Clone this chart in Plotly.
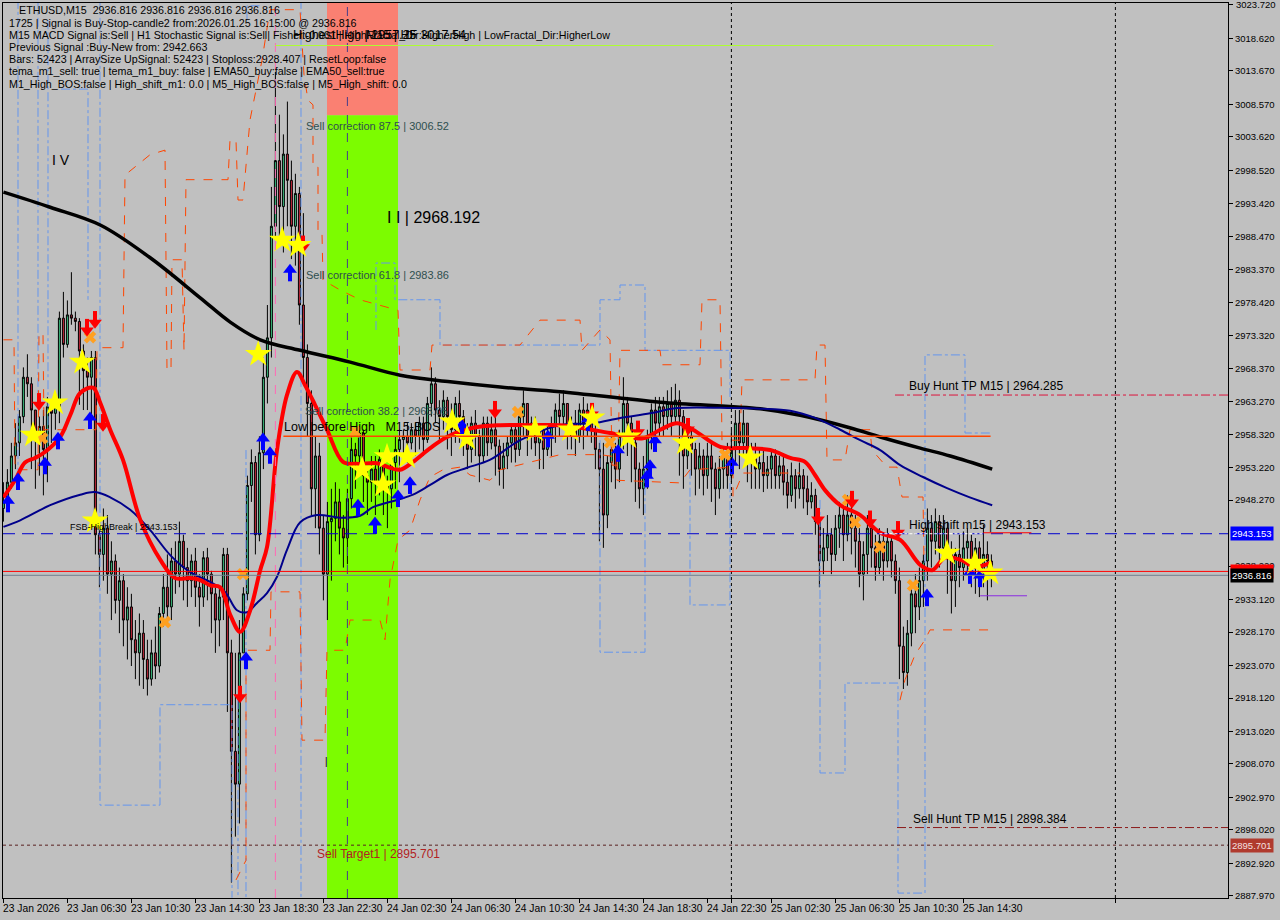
import plotly.graph_objects as go

# ---------------- data ----------------
first_open = 2947.0
closes = [
    2948, 2951, 2955, 2957, 2961, 2967, 2966, 2962, 2958, 2959.5,
    2956, 2962.5, 2961.5, 2962.5, 2976, 2972, 2976.5, 2976, 2975.5, 2971,
    2968, 2967, 2970, 2943, 2940, 2944, 2937, 2939, 2933, 2936,
    2930, 2932, 2927, 2925, 2928, 2924, 2921, 2925, 2923, 2931,
    2935, 2932, 2939, 2937, 2942, 2938, 2936, 2939, 2935, 2933.5,
    2939.5, 2937, 2934, 2930, 2933.5, 2940, 2925, 2910, 2905, 2925,
    2934, 2950.5, 2954, 2943, 2955.5, 2967, 2973, 2990, 3000, 2993,
    3001, 2997, 2990, 2995, 2978, 2970, 2963, 2950, 2955, 2944,
    2937, 2945, 2945.5, 2948, 2944, 2942.5, 2948.5, 2956, 2955, 2958.5,
    2952, 2951, 2953, 2951, 2954.5, 2951, 2950, 2954, 2956, 2957.5,
    2958, 2957, 2959, 2958, 2960, 2957.5, 2963, 2966, 2962, 2961,
    2963.5, 2961, 2959, 2963, 2961, 2957, 2956, 2960, 2958, 2955,
    2960, 2957, 2959, 2956.5, 2953, 2955, 2957, 2959, 2956, 2961,
    2963, 2958, 2960, 2957, 2959, 2956, 2958, 2959.5, 2962, 2961,
    2963, 2958, 2960, 2958, 2962, 2960, 2962, 2959, 2956, 2953,
    2946, 2954, 2956, 2953, 2958, 2963, 2960, 2957, 2953, 2950,
    2953, 2958, 2962, 2960, 2962.5, 2961, 2963, 2961, 2963.5, 2961,
    2955, 2958, 2956, 2953, 2955, 2952, 2955, 2953, 2950, 2953,
    2955, 2952, 2956, 2960, 2957, 2960, 2954, 2955, 2953, 2954,
    2952, 2953, 2955, 2952, 2953.5, 2951, 2949, 2952, 2950, 2952,
    2950, 2948, 2949, 2945, 2939, 2941, 2943, 2940, 2944, 2946,
    2943, 2946, 2944, 2942, 2937, 2940, 2944, 2941, 2938, 2942,
    2939, 2942, 2939, 2936, 2926, 2922, 2928, 2934, 2932, 2936,
    2939, 2944, 2942, 2945, 2941, 2944, 2940, 2936, 2940, 2938,
    2941, 2942, 2938, 2941, 2937, 2940, 2939, 2936.816,
]
highs = [
    2951, 2953, 2957, 2960, 2962, 2968.5, 2970.5, 2967, 2962, 2961,
    2962, 2964, 2963.5, 2964.5, 2977, 2980, 2978.7, 2983, 2977, 2976,
    2972, 2970, 2971, 2971, 2945, 2947, 2946, 2942, 2940, 2938,
    2937, 2935, 2934, 2930, 2931, 2930, 2927, 2927, 2929, 2932,
    2937, 2940, 2941, 2942, 2945, 2943, 2941, 2940, 2941, 2937,
    2940.5, 2941, 2937.5, 2935, 2935, 2941, 2941, 2927, 2925, 2930,
    2935, 2952, 2956, 2955, 2958, 2970, 2978, 2996, 3013.5, 3007,
    3004, 3009, 3000, 2998, 2996, 2992, 2972, 2965, 2958, 2957,
    2946, 2948, 2950, 2951, 2950, 2946, 2950, 2958.5, 2957, 2959.5,
    2959, 2953, 2955, 2955, 2956, 2955, 2952, 2955, 2958, 2959,
    2959, 2960, 2960, 2960, 2961, 2961, 2964, 2968.5, 2967, 2963.5,
    2965, 2964, 2963, 2964, 2965, 2962, 2960, 2961, 2962, 2959,
    2961, 2961, 2961, 2962, 2957.5, 2957, 2958, 2960, 2960, 2962,
    2965, 2963, 2961, 2961, 2960, 2960, 2960, 2961, 2963, 2964.5,
    2965, 2963, 2961, 2962, 2963, 2964, 2963, 2963, 2960, 2957,
    2957, 2955, 2958, 2957, 2959, 2967, 2964, 2961, 2958, 2954,
    2955, 2959, 2963, 2964, 2964, 2964, 2965, 2965.5, 2966, 2965,
    2962, 2960, 2959, 2957, 2957, 2956, 2957, 2957, 2954, 2955,
    2956, 2957, 2959, 2962, 2962, 2962, 2960, 2957, 2957, 2956,
    2956, 2955, 2956, 2956, 2955, 2955, 2953, 2954, 2953, 2954,
    2953, 2952, 2951, 2950, 2946, 2944, 2946, 2944, 2946, 2948,
    2947, 2949, 2949, 2946, 2944, 2942, 2946, 2945, 2943, 2944,
    2943, 2944, 2943, 2940, 2938, 2929, 2930, 2935, 2937, 2938,
    2940, 2947, 2946, 2947, 2946, 2946, 2945, 2942, 2941, 2943,
    2943.5, 2944, 2943, 2942.5, 2942, 2944.5, 2942, 2940,
]
lows = [
    2945, 2946.5, 2950, 2953, 2955, 2960, 2964, 2953, 2950, 2952,
    2949, 2951, 2957, 2959, 2960, 2970, 2971.5, 2975, 2974, 2962.8,
    2962, 2962, 2960, 2940, 2935, 2936, 2934, 2930, 2931, 2928,
    2926, 2924, 2923, 2921, 2920, 2919.5, 2918.5, 2920, 2921, 2922,
    2929, 2930, 2930, 2934, 2935, 2933, 2932, 2933.5, 2932, 2929,
    2932, 2933, 2928, 2925, 2926, 2930, 2916, 2890, 2897, 2899,
    2925, 2933, 2948, 2940, 2942, 2953, 2963, 2970, 2988, 2988,
    2986, 2990, 2985, 2984, 2975, 2966, 2958, 2946, 2944, 2940,
    2933, 2930, 2936, 2942, 2940, 2938, 2938.5, 2947, 2950, 2952,
    2948, 2946, 2948, 2946, 2949, 2946, 2944, 2947, 2950, 2951,
    2955, 2954, 2956, 2955, 2956, 2955, 2957, 2961, 2960, 2957,
    2959, 2956, 2955, 2957, 2957, 2955, 2953, 2954, 2955, 2951,
    2954, 2955, 2956, 2952, 2950.5, 2950, 2953, 2954, 2954, 2955,
    2958, 2955, 2956, 2955, 2953, 2953, 2955, 2955, 2957, 2958,
    2959, 2956, 2956, 2955, 2957, 2956, 2958, 2957, 2953, 2942,
    2941, 2944, 2951, 2950, 2951, 2956, 2955, 2951, 2948, 2947,
    2946, 2950, 2956, 2957, 2958, 2958, 2959, 2958, 2960, 2952,
    2950, 2953, 2952, 2949, 2950, 2949, 2950, 2948, 2946, 2948.5,
    2950, 2950, 2951, 2954, 2953, 2955, 2951, 2950, 2950, 2950,
    2949.5, 2950, 2950, 2950, 2950, 2949, 2947, 2948, 2947, 2948.5,
    2947, 2946, 2947, 2943, 2935, 2937, 2939, 2937, 2939, 2941,
    2939, 2942, 2940, 2938, 2935, 2933, 2937, 2938, 2936, 2937,
    2936, 2938, 2936.5, 2934, 2921, 2919.5, 2920, 2926, 2928, 2930,
    2932, 2936, 2938, 2940, 2938, 2939, 2934, 2931, 2932, 2935,
    2936, 2937, 2935, 2934, 2933.5, 2935, 2933, 2935,
]

x_label_bars = [0, 16, 32, 48, 64, 80, 96, 112, 128, 144, 160, 176, 192, 208, 224, 240]
x_labels = ["23 Jan 2026", "23 Jan 06:30", "23 Jan 10:30", "23 Jan 14:30", "23 Jan 18:30",
            "23 Jan 22:30", "24 Jan 02:30", "24 Jan 06:30", "24 Jan 10:30", "24 Jan 14:30",
            "24 Jan 18:30", "24 Jan 22:30", "25 Jan 02:30", "25 Jan 06:30", "25 Jan 10:30",
            "25 Jan 14:30"]
day_separator_bars = [182, 278]

y_tick_vals = [3023.72, 3018.62, 3013.67, 3008.57, 3003.62, 2998.52, 2993.42, 2988.47,
               2983.37, 2978.42, 2973.32, 2968.37, 2963.27, 2958.32, 2953.22, 2948.27,
               2938.22, 2933.12, 2928.17, 2923.07, 2918.12, 2913.02, 2908.07, 2902.97,
               2898.02, 2892.92, 2887.97]
y_tick_text = ["%.3f" % v for v in y_tick_vals]

# moving averages (bar, price)
ma_slow = [(0, 2995.2), (11.7, 2992.9), (24.2, 2990.2), (36.7, 2985.2), (49.2, 2979.1),
           (56.7, 2975.4), (64.2, 2972.7), (74.2, 2971.1), (86.7, 2969.3), (99.2, 2967.3),
           (111.7, 2966.3), (124.2, 2965.5), (139.2, 2964.8), (164.2, 2963.2), (189.2, 2962.2),
           (199.2, 2961.2), (211.6, 2959.3), (219.2, 2957.9), (229.2, 2956.2), (236.7, 2955.0),
           (247.2, 2953.0)]
ma_mid = [(0, 2944.2), (4.2, 2945.2), (11.7, 2947.5), (19.2, 2949.1), (22.9, 2949.5),
          (26.7, 2948.7), (31.7, 2946.8), (36.7, 2943.7), (41.7, 2939.9), (46.7, 2937.3),
          (51.7, 2935.8), (55.4, 2934.3), (58.4, 2931.5), (60.9, 2931.2), (63.4, 2932.6),
          (65.9, 2934.1), (68.4, 2936.6), (70.9, 2940.7), (74.2, 2944.9), (78.4, 2946.0),
          (84.2, 2945.6), (89.2, 2945.9), (92.4, 2947.2), (98.4, 2948.3), (102.4, 2949.1),
          (106.7, 2950.6), (110.9, 2952.1), (115.9, 2953.2), (121.6, 2954.4), (129.2, 2957.4),
          (139.2, 2959.7), (147.4, 2960.0), (154.2, 2960.8), (161.7, 2961.5), (168.4, 2962.3),
          (182.4, 2962.3), (189.2, 2962.2), (196.7, 2961.9), (202.9, 2960.8), (209.2, 2959.0),
          (214.2, 2957.4), (219.2, 2955.9), (224.2, 2953.6), (229.9, 2951.8), (235.9, 2950.1),
          (241.6, 2948.7), (247.2, 2947.5)]
ma_fast = [(0, 2948.7), (2.9, 2951.3), (5.4, 2954.0), (7.9, 2954.7), (10.4, 2955.6),
           (14.2, 2957.9), (16.7, 2961.2), (19.2, 2964.6), (22.4, 2965.4), (24.2, 2963.1),
           (26.7, 2959.0), (29.9, 2954.4), (34.2, 2945.3), (39.2, 2939.2), (42.9, 2936.4),
           (46.7, 2936.4), (49.2, 2936.1), (51.7, 2935.3), (54.2, 2935.0), (56.7, 2930.8),
           (59.2, 2928.2), (61.7, 2931.5), (64.2, 2937.6), (65.9, 2941.1), (68.4, 2955.9),
           (70.9, 2964.3), (73.4, 2967.8), (75.4, 2965.8), (77.9, 2962.8), (80.9, 2959.0),
           (84.9, 2954.1), (88.4, 2953.8), (93.4, 2953.9), (96.7, 2953.2), (99.2, 2952.9),
           (102.4, 2954.1), (106.7, 2956.2), (110.9, 2957.9), (117.4, 2959.3), (124.2, 2959.7),
           (131.7, 2959.7), (139.2, 2959.7), (144.2, 2959.3), (151.7, 2958.5), (159.9, 2957.7),
           (164.2, 2959.0), (168.4, 2960.0), (172.4, 2959.0), (179.2, 2956.4), (185.9, 2956.2),
           (191.7, 2955.9), (196.7, 2954.7), (200.4, 2954.1), (202.9, 2952.1), (205.4, 2949.8),
           (209.2, 2947.5), (214.2, 2946.0), (219.2, 2943.3), (224.2, 2942.2), (229.2, 2938.4),
           (232.2, 2937.6), (235.4, 2939.5), (239.2, 2939.2), (242.9, 2938.1), (246.7, 2938.7)]

# channel lines (bar, price)
orange_upper = [(0, 2972.7), (2.65, 2972.7), (2.9, 2952.9), (8.65, 2952.9), (8.9, 2973.7),
                (9.9, 2973.7), (10.15, 2959.0), (23.15, 2959.0), (23.4, 2971.5), (29.9, 2971.5),
                (30.4, 2997.8), (36.65, 3000.9), (40.4, 3001.6), (40.9, 2968.1), (41.9, 2968.1),
                (42.15, 2984.9), (44.65, 2984.9), (45.15, 2971.1), (45.65, 2997.1), (56.15, 2997.1),
                (56.65, 3003.1), (58.15, 3003.1), (58.65, 2994.0), (59.9, 2994.0), (61.65, 3006.2),
                (64.65, 3015.3), (66.65, 3023.0), (74.15, 3023.0), (75.15, 3013.1), (76.15, 3009.2),
                (77.4, 3008.5), (77.4, 2999.0), (78.65, 2999.0), (78.65, 2989.0), (79.65, 2989.0),
                (79.9, 2981.8), (84.15, 2980.3), (89.15, 2978.8), (98.65, 2977.2), (99.15, 2968.1),
                (106.65, 2968.1), (107.15, 2971.9), (129.15, 2971.9), (134.15, 2975.7),
                (144.15, 2975.7), (144.65, 2971.1), (149.15, 2974.2), (151.65, 2972.7),
                (152.15, 2953.6), (153.65, 2953.6), (154.15, 2971.1), (164.15, 2971.1),
                (164.65, 2968.9), (174.15, 2968.9), (174.65, 2978.8), (179.15, 2978.8),
                (179.65, 2957.4), (184.15, 2957.4), (184.65, 2966.6), (202.9, 2966.6),
                (203.4, 2971.9), (205.4, 2971.9), (205.9, 2954.4), (210.4, 2954.4),
                (211.65, 2959.0), (216.65, 2959.0), (217.15, 2955.9), (220.9, 2953.3),
                (223.4, 2953.3), (224.65, 2948.75), (229.9, 2948.75), (230.15, 2939.15)]
orange_lower = [(58.15, 2890.4), (60.65, 2893.4), (60.65, 2925.4), (66.65, 2925.4), (66.9, 2934.3),
                (74.15, 2934.3), (74.65, 2911.7), (80.4, 2911.7), (80.9, 2925.4), (85.4, 2925.4),
                (86.65, 2930.0), (94.15, 2930.0), (95.4, 2927.0), (96.65, 2936.1), (98.65, 2942.2),
                (101.65, 2943.7), (104.15, 2948.3), (106.65, 2951.8), (109.9, 2952.9),
                (114.15, 2953.3), (116.65, 2952.1), (121.65, 2951.3), (124.15, 2952.9),
                (139.15, 2955.2), (149.15, 2955.2), (153.4, 2954.85), (153.4, 2951.3),
                (169.15, 2950.9), (171.65, 2952.9), (182.4, 2953.3), (182.4, 2948.75),
                (184.9, 2952.4), (199.15, 2952.4)]
orange_lower_right = [(224.15, 2917.8), (225.4, 2920.9), (227.9, 2924.7), (230.4, 2927.0),
                      (231.65, 2928.5), (246.65, 2928.5)]
blue_segments = [
    [(3.65, 3024.5), (3.65, 2952.9)],
    [(8.65, 3024.5), (8.65, 2963.5)],
    [(11.15, 3021.4), (11.15, 2955.9)],
    [(14.4, 3010.9), (21.15, 3010.9), (21.15, 2978.8)],
    [(24.15, 3024.5), (24.15, 2901.8), (39.15, 2901.8), (39.15, 2917.1), (57.15, 2917.1), (57.15, 2887.7)],
    [(58.65, 2917.8), (58.65, 2887.7)],
    [(60.65, 2955.9), (60.65, 2887.7)],
    [(60.9, 3021.4), (60.9, 3023.6), (64.4, 3023.6)],
    [(74.4, 3024.5), (74.4, 2887.7)],
    [(93.15, 2974.2), (93.15, 2984.4), (97.9, 2984.4), (97.9, 2978.8), (109.15, 2978.8),
     (109.15, 2971.9), (149.15, 2971.9), (149.15, 2978.8), (154.15, 2978.8), (154.15, 2981.05),
     (160.4, 2981.05), (160.4, 2971.1), (181.65, 2971.1), (181.65, 2963.5)],
    [(149.15, 2957.4), (149.15, 2925.1), (160.4, 2925.1), (160.4, 2952.9)],
    [(171.65, 2952.9), (171.65, 2932.3), (181.65, 2932.3), (181.65, 2952.9)],
    [(204.15, 2948.3), (204.15, 2906.7), (210.4, 2906.7), (210.4, 2920.4), (223.65, 2920.4),
     (223.65, 2888.4), (230.4, 2888.4), (230.4, 2970.4), (240.4, 2970.4), (240.4, 2958.5),
     (246.65, 2958.5)],
]

# signal markers (bar, price)
stars = [(7.4, 2958.2), (12.9, 2963.1), (19.7, 2969.3), (22.9, 2945.1), (63.7, 2970.5),
         (69.7, 2987.9), (73.7, 2987.1), (89.7, 2952.9), (94.9, 2950.6), (95.9, 2954.9),
         (100.9, 2954.9), (112.2, 2960.2), (115.9, 2957.7), (132.9, 2959.0), (141.7, 2959.0),
         (147.2, 2960.8), (156.2, 2957.9), (170.4, 2957.0), (186.7, 2954.7), (235.9, 2940.2),
         (242.9, 2938.7), (246.7, 2937.2)]
up_arrows = [(1.15, 2947.8), (3.65, 2951.2), (10.4, 2953.6), (13.65, 2957.4), (21.65, 2960.5),
             (60.65, 2923.9), (64.9, 2957.3), (66.65, 2955.2), (71.65, 2983.0), (88.65, 2947.2),
             (92.9, 2944.5), (98.65, 2948.6), (101.65, 2950.6), (114.65, 2959.3), (136.15, 2957.7),
             (146.15, 2960.2), (153.65, 2955.5), (160.9, 2951.6), (161.65, 2953.2), (162.9, 2957.0),
             (182.15, 2953.6), (230.9, 2933.5), (241.65, 2936.9), (244.15, 2936.4)]
down_arrows = [(8.9, 2963.2), (20.9, 2974.5), (22.9, 2975.7), (24.9, 2960.0), (59.15, 2918.6),
               (74.9, 2987.2), (122.9, 2962.0), (147.15, 2961.7), (158.65, 2959.0), (171.15, 2959.4),
               (203.65, 2945.7), (212.15, 2948.3), (216.65, 2945.3), (223.65, 2943.7)]
crosses = [(9.65, 2957.7), (21.65, 2973.1), (40.4, 2929.7), (59.9, 2937.0), (87.9, 2958.7),
           (128.65, 2961.7), (151.65, 2957.1), (180.4, 2955.2), (211.15, 2948.3), (212.9, 2944.9),
           (219.15, 2941.1), (227.4, 2935.3)]

# levels
zone_bars = (80.9, 98.65)
zone_split = 3006.9
low_before_high = 2958.0
high_shift = 2943.153
buy_hunt_tp = 2964.285
sell_hunt_tp = 2898.384
sell_target1 = 2895.701
red_level = 2937.41
last_price = 2936.816
hf_level = 3017.54
stop_level = 2933.7

info_lines = [
    "ETHUSD,M15  2936.816 2936.816 2936.816 2936.816",
    "1725 | Signal is Buy-Stop-candle2 from:2026.01.25 16:15:00 @ 2936.816",
    "M15 MACD Signal is:Sell | H1 Stochastic Signal is:Sell| Fisher:-0.001 | HighFractal_Dir:HigherHigh | LowFractal_Dir:HigherLow",
    "Previous Signal :Buy-New from: 2942.663",
    "Bars: 52423 | ArraySize UpSignal: 52423 | Stoploss:2928.407 | ResetLoop:false",
    "tema_m1_sell: true | tema_m1_buy: false | EMA50_buy:false | EMA50_sell:true",
    "M1_High_BOS:false | High_shift_m1: 0.0 | M5_High_BOS:false | M5_High_shift: 0.0",
]

# ---------------- figure ----------------
W, H = 1280, 920
ML, MR, MT, MB = 3, 52, 3, 22
PW, PH = W - ML - MR, H - MT - MB
Y0, Y1 = 2887.65, 3024.02
UNIT = (Y1 - Y0) / PH  # price per pixel (for marker part offsets)


def px_x(px):
    return (px - ML) / PW


def px_y(py):
    return 1 - (py - MT) / PH


bars = list(range(len(closes)))
opens = [first_open] + closes[:-1]
hi = [max(h, o, c) for h, o, c in zip(highs, opens, closes)]
lo = [min(l, o, c) for l, o, c in zip(lows, opens, closes)]

fig = go.Figure()

fig.add_trace(go.Candlestick(
    x=bars, open=opens, high=hi, low=lo, close=closes,
    increasing=dict(line=dict(color="black", width=1), fillcolor="#3CC080"),
    decreasing=dict(line=dict(color="black", width=1), fillcolor="#C8283C"),
    whiskerwidth=0, showlegend=False, hoverinfo="skip"))


def line_trace(pts, color, width, dash="solid", shape="linear"):
    return go.Scatter(x=[p[0] for p in pts], y=[p[1] for p in pts], mode="lines",
                      line=dict(color=color, width=width, dash=dash, shape=shape),
                      showlegend=False, hoverinfo="skip")


bx, by = [], []
for seg in blue_segments:
    bx += [p[0] for p in seg] + [None]
    by += [p[1] for p in seg] + [None]
fig.add_trace(go.Scatter(x=bx, y=by, mode="lines", line=dict(color="#6495ED", width=1, dash="dashdot"),
                         showlegend=False, hoverinfo="skip", connectgaps=False))
fig.add_trace(line_trace(orange_upper, "#FF4500", 1, "dash"))
fig.add_trace(line_trace(orange_lower, "#FF4500", 1, "dash"))
fig.add_trace(line_trace(orange_lower_right, "#FF4500", 1, "dash"))

fig.add_trace(line_trace(ma_slow, "#000000", 3.5, shape="spline"))
fig.add_trace(line_trace(ma_mid, "#00008B", 2, shape="spline"))
fig.add_trace(line_trace(ma_fast, "#FF0000", 4, shape="spline"))


def marker_trace(xs, ys, symbol, color, size, lw=0, lc=None):
    return go.Scatter(x=xs, y=ys, mode="markers",
                      marker=dict(symbol=symbol, color=color, size=size,
                                  line=dict(width=lw, color=lc or color)),
                      showlegend=False, hoverinfo="skip")


fig.add_trace(marker_trace([p[0] for p in crosses], [p[1] for p in crosses], "x", "#FFA020", 11))

# arrows built from a head (triangle) and a shaft (thick short line)
ux = [p[0] for p in up_arrows]
fig.add_trace(marker_trace(ux, [p[1] - 3.5 * UNIT for p in up_arrows], "line-ns", "#0000FF", 8, 4, "#0000FF"))
fig.add_trace(marker_trace(ux, [p[1] + 2.5 * UNIT for p in up_arrows], "triangle-up", "#0000FF", 12))
dx = [p[0] for p in down_arrows]
fig.add_trace(marker_trace(dx, [p[1] + 3.5 * UNIT for p in down_arrows], "line-ns", "#FF0000", 8, 4, "#FF0000"))
fig.add_trace(marker_trace(dx, [p[1] - 2.5 * UNIT for p in down_arrows], "triangle-down", "#FF0000", 12))

fig.add_trace(marker_trace([p[0] for p in stars], [p[1] for p in stars], "star", "#FFFF00", 20))

shapes = []
shapes.append(dict(type="rect", xref="x", yref="y", x0=zone_bars[0], x1=zone_bars[1],
                   y0=zone_split, y1=3030, fillcolor="#FA8072", line=dict(width=0), layer="below"))
shapes.append(dict(type="rect", xref="x", yref="y", x0=zone_bars[0], x1=zone_bars[1],
                   y0=2880, y1=zone_split, fillcolor="#7CFC00", line=dict(width=0), layer="below"))
for b in day_separator_bars:
    shapes.append(dict(type="line", xref="x", yref="paper", x0=b, x1=b, y0=0, y1=1,
                       line=dict(color="black", width=1, dash="dot"), layer="above"))
shapes.append(dict(type="line", xref="x", yref="paper", x0=86, x1=86, y0=0, y1=1,
                   line=dict(color="#483D8B", width=1, dash="dash"), layer="above"))
shapes.append(dict(type="line", xref="x", yref="paper", x0=68, x1=68, y0=0, y1=1,
                   line=dict(color="#FF69B4", width=1, dash="dash"), layer="above"))
shapes.append(dict(type="line", xref="x", yref="y", x0=68, x1=247.5, y0=hf_level, y1=hf_level,
                   line=dict(color="#ADFF2F", width=1), layer="above"))
shapes.append(dict(type="line", xref="x", yref="y", x0=70, x1=246.8, y0=low_before_high, y1=low_before_high,
                   line=dict(color="#FF4500", width=1.5), layer="above"))
shapes.append(dict(type="line", xref="paper", yref="y", x0=0, x1=1, y0=high_shift, y1=high_shift,
                   line=dict(color="#0000CD", width=1, dash="12px,7px"), layer="above"))
shapes.append(dict(type="line", xref="x", yref="y", x0=219, x1=245, y0=high_shift, y1=high_shift,
                   line=dict(color="#FFFFFF", width=1, dash="3px,2px"), layer="above"))
shapes.append(dict(type="line", xref="x", yref="y", x0=245, x1=257, y0=high_shift + 0.15, y1=high_shift + 0.15,
                   line=dict(color="#FF0000", width=1), layer="above"))
shapes.append(dict(type="line", xref="x", yref="y", x0=222.9, x1=306.2, y0=buy_hunt_tp, y1=buy_hunt_tp,
                   line=dict(color="#DC143C", width=1, dash="dashdot"), layer="above"))
shapes.append(dict(type="line", xref="x", yref="y", x0=223.4, x1=306.2, y0=sell_hunt_tp, y1=sell_hunt_tp,
                   line=dict(color="#8B1A1A", width=1, dash="dashdot"), layer="above"))
shapes.append(dict(type="line", xref="paper", yref="y", x0=0, x1=1, y0=sell_target1, y1=sell_target1,
                   line=dict(color="#5A2020", width=1, dash="3px,3px"), layer="above"))
shapes.append(dict(type="line", xref="paper", yref="y", x0=0, x1=1, y0=red_level, y1=red_level,
                   line=dict(color="#FF0000", width=1), layer="above"))
shapes.append(dict(type="line", xref="paper", yref="y", x0=0, x1=1, y0=last_price, y1=last_price,
                   line=dict(color="#708090", width=1), layer="above"))
shapes.append(dict(type="line", xref="x", yref="y", x0=244.2, x1=255.9, y0=stop_level, y1=stop_level,
                   line=dict(color="#8A2BE2", width=1), layer="above"))

ann = []
FONT = "Liberation Sans, Arial, sans-serif"


def text(x, y, t, size=11, color="black", xa="left", ya="middle", xref="x", yref="y"):
    ann.append(dict(x=x, y=y, xref=xref, yref=yref, text=t, showarrow=False,
                    xanchor=xa, yanchor=ya, font=dict(family=FONT, size=size, color=color)))


info_px = [(17, 10.5)] + [(7, 23 + 12.1 * k) for k in range(6)]
for (px, py), t in zip(info_px, info_lines):
    text(px_x(px), px_y(py), t, size=10.7, xref="paper", yref="paper")
text(px_x(291), px_y(35), "HighestHigh | 2957.25", size=12.5, xref="paper", yref="paper")
text(px_x(364), px_y(35), "M15 | HF 3017.54", size=12.5, xref="paper", yref="paper")

text(75.1, 3006.52, "Sell correction 87.5 | 3006.52", 11, "#2F4F4F", ya="top")
text(75.1, 2983.86, "Sell correction 61.8 | 2983.86", 11, "#2F4F4F", ya="top")
text(74.9, 2963.05, "Sell correction 38.2 | 2963.05", 11, "#2F4F4F", ya="top")
text(95.4, 2991.3, "I I | 2968.192", 16)
text(11.65, 3000.1, "I V", 14)
text(69.6, low_before_high, "Low before High   M15-BOS", 12.5, ya="bottom")
text(225.9, buy_hunt_tp, "Buy Hunt TP M15 | 2964.285", 12, ya="bottom")
text(225.9, high_shift, "High shift m15 | 2943.153", 12, ya="bottom")
text(226.9, sell_hunt_tp, "Sell Hunt TP M15 | 2898.384", 12, ya="bottom")
text(77.9, sell_target1, "Sell Target1 | 2895.701", 12, "#B22222", ya="top")
text(16.15, high_shift, "FSB-HighBreak | 2943.153", 9, ya="bottom")
text(80, 2908.5, "|", 10)

for b, t in zip(x_label_bars, x_labels):
    ann.append(dict(x=b, y=0, xref="x", yref="paper", text=t, showarrow=False,
                    xanchor="left", yanchor="top", xshift=-2, yshift=-3,
                    font=dict(family=FONT, size=10.3, color="black")))

# top price label (would otherwise be clipped at the figure edge)
ann.append(dict(x=1, y=y_tick_vals[0], xref="paper", yref="y", text=y_tick_text[0], showarrow=False,
                xanchor="left", yanchor="middle", xshift=6,
                font=dict(family=FONT, size=9.5, color="black")))

for price, bg, fg, label in [(high_shift, "#0000FF", "#FFFFFF", "2943.153"),
                             (red_level, "#FF0000", "#000000", "2937.410"),
                             (last_price, "#000000", "#FFFFFF", "2936.816"),
                             (sell_target1, "#B03A2E", "#F5E0E0", "2895.701")]:
    ann.append(dict(x=1, y=price, xref="paper", yref="y", text=label, showarrow=False,
                    xanchor="left", yanchor="middle", xshift=2, bgcolor=bg, borderpad=1,
                    font=dict(family=FONT, size=9.5, color=fg)))

fig.update_layout(
    template="none",
    width=W, height=H,
    margin=dict(l=ML, r=MR, t=MT, b=MB, pad=0),
    paper_bgcolor="#C0C0C0", plot_bgcolor="#C0C0C0",
    showlegend=False, hovermode=False,
    shapes=shapes, annotations=ann,
    xaxis=dict(range=[-0.1, 306.15], showgrid=False, zeroline=False, showline=True, mirror=True,
               linecolor="black", linewidth=1, ticks="outside", ticklen=4, tickcolor="black",
               tickvals=x_label_bars + day_separator_bars, showticklabels=False,
               rangeslider=dict(visible=False), automargin=False, fixedrange=True),
    yaxis=dict(range=[Y0, Y1], side="right", showgrid=False, zeroline=False,
               showline=True, mirror=True, linecolor="black", linewidth=1,
               ticks="outside", ticklen=4, tickcolor="black",
               tickvals=y_tick_vals, ticktext=y_tick_text,
               tickfont=dict(family=FONT, size=9.5, color="black"), automargin=False, fixedrange=True),
)

fig.write_html("out.html", config={"displayModeBar": False, "staticPlot": True},
               post_script="document.body.style.margin='0';document.body.style.overflow='hidden';")
